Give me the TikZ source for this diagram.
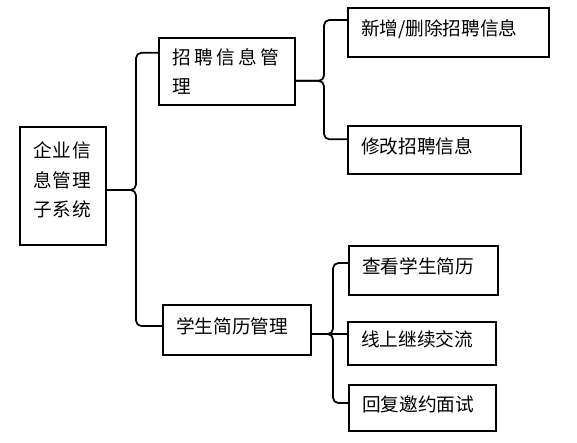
\documentclass[tikz,border=0pt]{standalone}
\usepackage{fontspec}
\setmainfont{Noto Sans CJK SC}
\usetikzlibrary{calc}

\tikzset{
  box/.style={draw, line width=1.5pt, anchor=north west, align=left,
    inner xsep=9.75pt, inner ysep=0pt},
  single/.style={box, text depth=7pt},
  brace/.style={line width=1.3pt, rounded corners=4pt},
}

\begin{document}
\begin{tikzpicture}[x=0.75pt, y=-0.75pt, font=\fontsize{14pt}{22pt}\selectfont]
  \useasboundingbox (0,0) rectangle (577,442);
  % boxes
  \node[box, text width=45pt, minimum height=88.5pt, text depth=54pt] (root) at (19,126)
    {企\kern1pt 业\kern1pt 信\\息\kern1pt 管\kern1pt 理\\子\kern1pt 系\kern1pt 统};
  \node[box, text width=82.5pt, minimum height=50.25pt] (zp) at (158,37)
    {招\kern2.6pt 聘\kern2.6pt 信\kern2.6pt 息\kern2.6pt 管\\理};
  \node[single, text width=91.5pt, minimum height=37.5pt] (xs) at (162,304) {学生简历管理};
  \node[single, text width=131.25pt, minimum height=36.75pt] (add) at (347,7) {新增/删除招聘信息};
  \node[single, text width=110.25pt, minimum height=36pt] (edit) at (347,125) {修改招聘信息};
  \node[single, text width=92.25pt, minimum height=36.75pt] (view) at (348,245) {查看学生简历};
  \node[single, text width=91.5pt, minimum height=32.25pt] (chat) at (347,321) {线上继续交流};
  \node[single, text width=90.75pt, minimum height=34.5pt] (reply) at (348,384) {回复邀约面试};
  % braces
  \draw[brace] ([yshift=-3pt]root.east) -- ++(29,0) |- ([yshift=14pt]zp.west);
  \draw[brace] ([yshift=-3pt]root.east) -- ++(29,0) |- ([yshift=3pt]xs.west);
  \draw[brace] ([yshift=-7pt]zp.east) -- ++(28,0) |- ([yshift=9.4pt]add.west);
  \draw[brace] ([yshift=-7pt]zp.east) -- ++(28,0) |- ([yshift=8pt]edit.west);
  \draw[brace] ([yshift=-3pt]xs.east) -- ++(21,0) |- ([yshift=5.6pt]view.west);
  \draw[brace] ([yshift=-3pt]xs.east) -- ++(21,0) |- ([yshift=3.75pt]reply.west);
  \draw[brace] ([yshift=-3pt]xs.east) -- ([yshift=-3pt]xs.east -| chat.west);
\end{tikzpicture}
\end{document}
